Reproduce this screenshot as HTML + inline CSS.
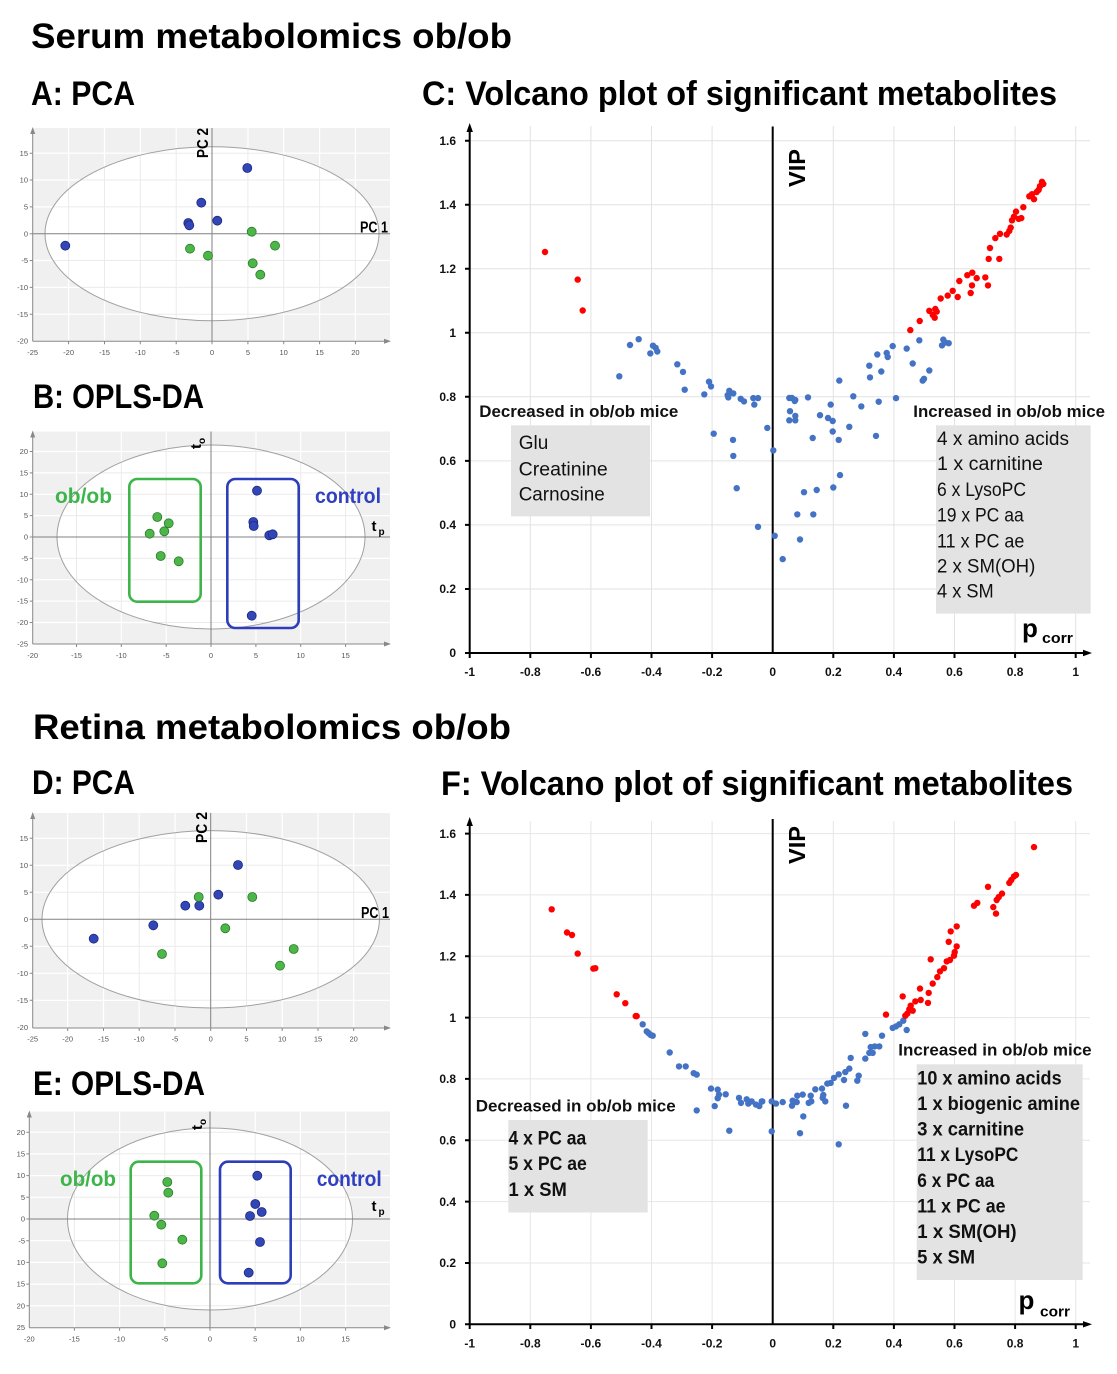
<!DOCTYPE html>
<html><head><meta charset="utf-8"><style>
html,body{margin:0;padding:0;background:#fff;}
svg{display:block;font-family:"Liberation Sans",sans-serif;}
.t{font-weight:bold;fill:#000;}
.tk{font-size:7.5px;fill:#555;}
.vk{font-size:12px;font-weight:bold;fill:#111;}
</style></head><body>
<svg width="1117" height="1374" viewBox="0 0 1117 1374" xmlns="http://www.w3.org/2000/svg">
<defs>
<clipPath id="cA"><ellipse cx="212" cy="233.7" rx="167" ry="87"/></clipPath>
<clipPath id="cB"><ellipse cx="211" cy="537" rx="154" ry="92"/></clipPath>
<clipPath id="cD"><ellipse cx="210.7" cy="919.3" rx="168.7" ry="88.7"/></clipPath>
<clipPath id="cE"><ellipse cx="210" cy="1219" rx="142.5" ry="91"/></clipPath>
</defs>

<!-- Titles -->
<text class="t" x="31" y="48" font-size="35" textLength="481" lengthAdjust="spacingAndGlyphs">Serum metabolomics ob/ob</text>
<text class="t" x="31" y="105" font-size="34" textLength="104" lengthAdjust="spacingAndGlyphs">A: PCA</text>
<text class="t" x="422" y="105" font-size="34" textLength="635" lengthAdjust="spacingAndGlyphs">C: Volcano plot of significant metabolites</text>
<text class="t" x="33" y="408" font-size="34" textLength="171" lengthAdjust="spacingAndGlyphs">B: OPLS-DA</text>
<text class="t" x="33" y="739" font-size="35" textLength="478" lengthAdjust="spacingAndGlyphs">Retina metabolomics ob/ob</text>
<text class="t" x="32" y="794" font-size="34" textLength="103" lengthAdjust="spacingAndGlyphs">D: PCA</text>
<text class="t" x="441" y="795" font-size="34" textLength="632" lengthAdjust="spacingAndGlyphs">F: Volcano plot of significant metabolites</text>
<text class="t" x="33" y="1095" font-size="34" textLength="172" lengthAdjust="spacingAndGlyphs">E: OPLS-DA</text>

<!-- ================= Panel A ================= -->
<rect x="32.7" y="128" width="357.3" height="213.3" fill="#f0f0f0"/>
<path d="M68.6 128V341.3M104.5 128V341.3M140.3 128V341.3M176.2 128V341.3M247.9 128V341.3M283.7 128V341.3M319.6 128V341.3M355.4 128V341.3M32.7 153.2H390M32.7 180H390M32.7 206.9H390M32.7 260.5H390M32.7 287.4H390M32.7 314.2H390" stroke="#fff" stroke-width="1.2" fill="none"/>
<ellipse cx="212" cy="233.7" rx="167" ry="87" fill="#fff"/>
<path clip-path="url(#cA)" d="M68.6 128V341.3M104.5 128V341.3M140.3 128V341.3M176.2 128V341.3M247.9 128V341.3M283.7 128V341.3M319.6 128V341.3M355.4 128V341.3M32.7 153.2H390M32.7 180H390M32.7 206.9H390M32.7 260.5H390M32.7 287.4H390M32.7 314.2H390" stroke="#ebebeb" stroke-width="1" fill="none"/>
<ellipse cx="212" cy="233.7" rx="167" ry="87" fill="none" stroke="#a0a0a0" stroke-width="1"/>
<path d="M212 128V341.3M32.7 233.7H390" stroke="#808080" stroke-width="1" fill="none"/>
<path d="M32.7 341.3V132M32.7 341.3H385M29.7 153.2H32.7M29.7 180H32.7M29.7 206.9H32.7M29.7 233.7H32.7M29.7 260.5H32.7M29.7 287.4H32.7M29.7 314.2H32.7M68.6 341.3V344.3M104.5 341.3V344.3M140.3 341.3V344.3M176.2 341.3V344.3M212 341.3V344.3M247.9 341.3V344.3M283.7 341.3V344.3M319.6 341.3V344.3M355.4 341.3V344.3" stroke="#888" stroke-width="1" fill="none"/>
<polygon points="32.7,127 30.2,134 35.2,134" fill="#888"/>
<polygon points="391,341.3 384,338.8 384,343.8" fill="#888"/>
<g class="tk" text-anchor="end"><text x="28" y="153.2" dy="0.35em">15</text><text x="28" y="180" dy="0.35em">10</text><text x="28" y="206.9" dy="0.35em">5</text><text x="28" y="233.7" dy="0.35em">0</text><text x="28" y="260.5" dy="0.35em">-5</text><text x="28" y="287.4" dy="0.35em">-10</text><text x="28" y="314.2" dy="0.35em">-15</text><text x="28" y="341.1" dy="0.35em">-20</text></g>
<g class="tk" text-anchor="middle"><text x="32.7" y="355">-25</text><text x="68.6" y="355">-20</text><text x="104.5" y="355">-15</text><text x="140.3" y="355">-10</text><text x="176.2" y="355">-5</text><text x="212" y="355">0</text><text x="247.9" y="355">5</text><text x="283.7" y="355">10</text><text x="319.6" y="355">15</text><text x="355.4" y="355">20</text></g>
<text class="t" font-size="16" transform="translate(208,158) rotate(-90)" textLength="30" lengthAdjust="spacingAndGlyphs">PC 2</text>
<text class="t" font-size="16" x="360" y="232.5" textLength="28" lengthAdjust="spacingAndGlyphs">PC 1</text>
<g fill="#3346b8" stroke="#1c2a7c" stroke-width="0.8">
<circle cx="65.3" cy="245.7" r="4.5"/><circle cx="188.3" cy="223" r="4.5"/><circle cx="189.3" cy="225.3" r="4.5"/><circle cx="201.3" cy="202.7" r="4.5"/><circle cx="217.3" cy="220.7" r="4.5"/><circle cx="247.3" cy="168" r="4.5"/>
</g>
<g fill="#4cb648" stroke="#2a7a2a" stroke-width="0.8">
<circle cx="190" cy="248.7" r="4.5"/><circle cx="208" cy="255.7" r="4.5"/><circle cx="251.7" cy="231.7" r="4.5"/><circle cx="275" cy="245.7" r="4.5"/><circle cx="252.7" cy="263.3" r="4.5"/><circle cx="260.3" cy="274.7" r="4.5"/>
</g>

<!-- ================= Panel B ================= -->
<rect x="32.7" y="431.5" width="357.3" height="212.5" fill="#f0f0f0"/>
<path d="M76.5 431.5V644M121.3 431.5V644M166.2 431.5V644M255.9 431.5V644M300.7 431.5V644M345.6 431.5V644M32.7 451.5H390M32.7 472.9H390M32.7 494.3H390M32.7 515.6H390M32.7 558.4H390M32.7 579.7H390M32.7 601.1H390M32.7 622.5H390" stroke="#fff" stroke-width="1.2" fill="none"/>
<ellipse cx="211" cy="537" rx="154" ry="92" fill="#fff"/>
<path clip-path="url(#cB)" d="M76.5 431.5V644M121.3 431.5V644M166.2 431.5V644M255.9 431.5V644M300.7 431.5V644M345.6 431.5V644M32.7 451.5H390M32.7 472.9H390M32.7 494.3H390M32.7 515.6H390M32.7 558.4H390M32.7 579.7H390M32.7 601.1H390M32.7 622.5H390" stroke="#ebebeb" stroke-width="1" fill="none"/>
<ellipse cx="211" cy="537" rx="154" ry="92" fill="none" stroke="#a0a0a0" stroke-width="1"/>
<path d="M211 431.5V644M32.7 537H390" stroke="#808080" stroke-width="1" fill="none"/>
<path d="M32.7 644V435M32.7 644H385M29.7 451.5H32.7M29.7 472.9H32.7M29.7 494.3H32.7M29.7 515.6H32.7M29.7 537H32.7M29.7 558.4H32.7M29.7 579.7H32.7M29.7 601.1H32.7M29.7 622.5H32.7M76.5 644V647M121.3 644V647M166.2 644V647M211 644V647M255.9 644V647M300.7 644V647M345.6 644V647" stroke="#888" stroke-width="1" fill="none"/>
<polygon points="32.7,430.5 30.2,437.5 35.2,437.5" fill="#888"/>
<polygon points="391,644 384,641.5 384,646.5" fill="#888"/>
<g class="tk" text-anchor="end"><text x="28" y="451.5" dy="0.35em">20</text><text x="28" y="472.9" dy="0.35em">15</text><text x="28" y="494.3" dy="0.35em">10</text><text x="28" y="515.6" dy="0.35em">5</text><text x="28" y="537" dy="0.35em">0</text><text x="28" y="558.4" dy="0.35em">-5</text><text x="28" y="579.7" dy="0.35em">-10</text><text x="28" y="601.1" dy="0.35em">-15</text><text x="28" y="622.5" dy="0.35em">-20</text><text x="28" y="643.8" dy="0.35em">-25</text></g>
<g class="tk" text-anchor="middle"><text x="32.7" y="658">-20</text><text x="76.5" y="658">-15</text><text x="121.3" y="658">-10</text><text x="166.2" y="658">-5</text><text x="211" y="658">0</text><text x="255.9" y="658">5</text><text x="300.7" y="658">10</text><text x="345.6" y="658">15</text></g>
<rect x="129.3" y="479" width="71.4" height="122.7" rx="8" fill="none" stroke="#3db54a" stroke-width="2.6"/>
<rect x="227.3" y="479" width="71.4" height="149" rx="8" fill="none" stroke="#2e3db8" stroke-width="2.6"/>
<text font-weight="bold" font-size="21" fill="#3db54a" x="55" y="503" textLength="57" lengthAdjust="spacingAndGlyphs">ob/ob</text>
<text font-weight="bold" font-size="21" fill="#3040c0" x="315" y="503" textLength="66" lengthAdjust="spacingAndGlyphs">control</text>
<text class="t" font-size="15" transform="translate(201,449) rotate(-90)">t<tspan font-size="10" dy="4">o</tspan></text>
<text class="t" font-size="15" x="371.5" y="531">t<tspan font-size="10" dy="4" dx="2">p</tspan></text>
<g fill="#4cb648" stroke="#2a7a2a" stroke-width="0.8">
<circle cx="157.3" cy="517" r="4.5"/><circle cx="168.7" cy="523.3" r="4.5"/><circle cx="149.7" cy="533.7" r="4.5"/><circle cx="164.3" cy="531.3" r="4.5"/><circle cx="160.7" cy="556" r="4.5"/><circle cx="178.7" cy="561.3" r="4.5"/>
</g>
<g fill="#3346b8" stroke="#1c2a7c" stroke-width="0.8">
<circle cx="257" cy="490.7" r="4.5"/><circle cx="253.3" cy="522" r="4.5"/><circle cx="253.7" cy="526" r="4.5"/><circle cx="269.3" cy="535.3" r="4.5"/><circle cx="272.7" cy="534.3" r="4.5"/><circle cx="251.7" cy="615.7" r="4.5"/>
</g>

<!-- ================= Panel D ================= -->
<rect x="32.7" y="813" width="357.3" height="215" fill="#f0f0f0"/>
<path d="M67.7 813V1028M103.5 813V1028M139.2 813V1028M175 813V1028M246.5 813V1028M282.2 813V1028M318 813V1028M353.7 813V1028M32.7 838.3H390M32.7 865.3H390M32.7 892.3H390M32.7 946.3H390M32.7 973.3H390M32.7 1000.3H390" stroke="#fff" stroke-width="1.2" fill="none"/>
<ellipse cx="210.7" cy="919.3" rx="168.7" ry="88.7" fill="#fff"/>
<path clip-path="url(#cD)" d="M67.7 813V1028M103.5 813V1028M139.2 813V1028M175 813V1028M246.5 813V1028M282.2 813V1028M318 813V1028M353.7 813V1028M32.7 838.3H390M32.7 865.3H390M32.7 892.3H390M32.7 946.3H390M32.7 973.3H390M32.7 1000.3H390" stroke="#ebebeb" stroke-width="1" fill="none"/>
<ellipse cx="210.7" cy="919.3" rx="168.7" ry="88.7" fill="none" stroke="#a0a0a0" stroke-width="1"/>
<path d="M210.7 813V1028M32.7 919.3H390" stroke="#808080" stroke-width="1" fill="none"/>
<path d="M32.7 1028V817M32.7 1028H385M29.7 838.3H32.7M29.7 865.3H32.7M29.7 892.3H32.7M29.7 919.3H32.7M29.7 946.3H32.7M29.7 973.3H32.7M29.7 1000.3H32.7M67.7 1028V1031M103.5 1028V1031M139.2 1028V1031M175 1028V1031M210.7 1028V1031M246.5 1028V1031M282.2 1028V1031M318 1028V1031M353.7 1028V1031" stroke="#888" stroke-width="1" fill="none"/>
<polygon points="32.7,812 30.2,819 35.2,819" fill="#888"/>
<polygon points="391,1028 384,1025.5 384,1030.5" fill="#888"/>
<g class="tk" text-anchor="end"><text x="28" y="838.3" dy="0.35em">15</text><text x="28" y="865.3" dy="0.35em">10</text><text x="28" y="892.3" dy="0.35em">5</text><text x="28" y="919.3" dy="0.35em">0</text><text x="28" y="946.3" dy="0.35em">-5</text><text x="28" y="973.3" dy="0.35em">-10</text><text x="28" y="1000.3" dy="0.35em">-15</text><text x="28" y="1027.3" dy="0.35em">-20</text></g>
<g class="tk" text-anchor="middle"><text x="32.7" y="1041.5">-25</text><text x="67.7" y="1041.5">-20</text><text x="103.5" y="1041.5">-15</text><text x="139.2" y="1041.5">-10</text><text x="175" y="1041.5">-5</text><text x="210.7" y="1041.5">0</text><text x="246.5" y="1041.5">5</text><text x="282.2" y="1041.5">10</text><text x="318" y="1041.5">15</text><text x="353.7" y="1041.5">20</text></g>
<text class="t" font-size="16" transform="translate(207,843) rotate(-90)" textLength="31" lengthAdjust="spacingAndGlyphs">PC 2</text>
<text class="t" font-size="16" x="361" y="918" textLength="28" lengthAdjust="spacingAndGlyphs">PC 1</text>
<g fill="#3346b8" stroke="#1c2a7c" stroke-width="0.8">
<circle cx="93.7" cy="938.7" r="4.5"/><circle cx="153.3" cy="925.3" r="4.5"/><circle cx="185.3" cy="905.7" r="4.5"/><circle cx="199.3" cy="905.7" r="4.5"/><circle cx="218.3" cy="894.7" r="4.5"/><circle cx="238" cy="865" r="4.5"/>
</g>
<g fill="#4cb648" stroke="#2a7a2a" stroke-width="0.8">
<circle cx="162" cy="954" r="4.5"/><circle cx="198.7" cy="897" r="4.5"/><circle cx="225.3" cy="928.3" r="4.5"/><circle cx="252.3" cy="897" r="4.5"/><circle cx="280" cy="965.7" r="4.5"/><circle cx="293.7" cy="949" r="4.5"/>
</g>

<!-- ================= Panel E ================= -->
<rect x="29.3" y="1111.5" width="360.7" height="216.2" fill="#f0f0f0"/>
<path d="M74.4 1111.5V1327.7M119.6 1111.5V1327.7M164.8 1111.5V1327.7M255.2 1111.5V1327.7M300.4 1111.5V1327.7M345.6 1111.5V1327.7M29.3 1132.2H390M29.3 1153.9H390M29.3 1175.6H390M29.3 1197.3H390M29.3 1240.7H390M29.3 1262.4H390M29.3 1284.1H390M29.3 1305.8H390" stroke="#fff" stroke-width="1.2" fill="none"/>
<ellipse cx="210" cy="1219" rx="142.5" ry="91" fill="#fff"/>
<path clip-path="url(#cE)" d="M74.4 1111.5V1327.7M119.6 1111.5V1327.7M164.8 1111.5V1327.7M255.2 1111.5V1327.7M300.4 1111.5V1327.7M345.6 1111.5V1327.7M29.3 1132.2H390M29.3 1153.9H390M29.3 1175.6H390M29.3 1197.3H390M29.3 1240.7H390M29.3 1262.4H390M29.3 1284.1H390M29.3 1305.8H390" stroke="#ebebeb" stroke-width="1" fill="none"/>
<ellipse cx="210" cy="1219" rx="142.5" ry="91" fill="none" stroke="#a0a0a0" stroke-width="1"/>
<path d="M210 1111.5V1327.7M29.3 1219H390" stroke="#808080" stroke-width="1" fill="none"/>
<path d="M29.3 1327.7V1115M29.3 1327.7H385M26.3 1132.2H29.3M26.3 1153.9H29.3M26.3 1175.6H29.3M26.3 1197.3H29.3M26.3 1219H29.3M26.3 1240.7H29.3M26.3 1262.4H29.3M26.3 1284.1H29.3M26.3 1305.8H29.3M74.4 1327.7V1330.7M119.6 1327.7V1330.7M164.8 1327.7V1330.7M210 1327.7V1330.7M255.2 1327.7V1330.7M300.4 1327.7V1330.7M345.6 1327.7V1330.7" stroke="#888" stroke-width="1" fill="none"/>
<polygon points="29.3,1110.5 26.8,1117.5 31.8,1117.5" fill="#888"/>
<polygon points="391,1327.7 384,1325.2 384,1330.2" fill="#888"/>
<g class="tk" text-anchor="end"><text x="25" y="1132.2" dy="0.35em">20</text><text x="25" y="1153.9" dy="0.35em">15</text><text x="25" y="1175.6" dy="0.35em">10</text><text x="25" y="1197.3" dy="0.35em">5</text><text x="25" y="1219" dy="0.35em">0</text><text x="25" y="1240.7" dy="0.35em">-5</text><text x="25" y="1262.4" dy="0.35em">10</text><text x="25" y="1284.1" dy="0.35em">15</text><text x="25" y="1305.8" dy="0.35em">20</text><text x="25" y="1327.5" dy="0.35em">25</text></g>
<g class="tk" text-anchor="middle"><text x="29.3" y="1341.5">-20</text><text x="74.4" y="1341.5">-15</text><text x="119.6" y="1341.5">-10</text><text x="164.8" y="1341.5">-5</text><text x="210" y="1341.5">0</text><text x="255.2" y="1341.5">5</text><text x="300.4" y="1341.5">10</text><text x="345.6" y="1341.5">15</text></g>
<rect x="130.7" y="1161.7" width="70.6" height="121.6" rx="8" fill="none" stroke="#3db54a" stroke-width="2.6"/>
<rect x="220" y="1161.7" width="70.7" height="121.6" rx="8" fill="none" stroke="#2e3db8" stroke-width="2.6"/>
<text font-weight="bold" font-size="21" fill="#3db54a" x="60" y="1186" textLength="56" lengthAdjust="spacingAndGlyphs">ob/ob</text>
<text font-weight="bold" font-size="21" fill="#3040c0" x="316.7" y="1186" textLength="65" lengthAdjust="spacingAndGlyphs">control</text>
<text class="t" font-size="15" transform="translate(202,1130) rotate(-90)">t<tspan font-size="10" dy="4">o</tspan></text>
<text class="t" font-size="15" x="371.5" y="1211">t<tspan font-size="10" dy="4" dx="2">p</tspan></text>
<g fill="#4cb648" stroke="#2a7a2a" stroke-width="0.8">
<circle cx="167.3" cy="1182" r="4.5"/><circle cx="168.3" cy="1192.7" r="4.5"/><circle cx="154.3" cy="1215.7" r="4.5"/><circle cx="161.3" cy="1224.7" r="4.5"/><circle cx="182.3" cy="1239.7" r="4.5"/><circle cx="162.3" cy="1263.3" r="4.5"/>
</g>
<g fill="#3346b8" stroke="#1c2a7c" stroke-width="0.8">
<circle cx="257.3" cy="1175.7" r="4.5"/><circle cx="255.3" cy="1204" r="4.5"/><circle cx="261.7" cy="1212" r="4.5"/><circle cx="250" cy="1216" r="4.5"/><circle cx="260" cy="1242" r="4.5"/><circle cx="248.7" cy="1272.7" r="4.5"/>
</g>

<!-- ================= Volcano C ================= -->
<path d="M530.3 126V653M590.9 126V653M651.5 126V653M712.1 126V653M833.3 126V653M893.9 126V653M954.5 126V653M1015.1 126V653M1075.7 126V653M469.7 589H1090M469.7 524.9H1090M469.7 460.9H1090M469.7 396.8H1090M469.7 332.8H1090M469.7 268.8H1090M469.7 204.7H1090M469.7 140.7H1090" stroke="#e2e2e2" stroke-width="1" fill="none"/>
<rect x="511" y="425.3" width="139" height="91" fill="#e3e3e3"/>
<rect x="936" y="425.3" width="154.7" height="188.3" fill="#e3e3e3"/>
<path d="M469.7 653V130M469.7 653H1085M772.7 126.5V653M465 589H469.7M465 524.9H469.7M465 460.9H469.7M465 396.8H469.7M465 332.8H469.7M465 268.8H469.7M465 204.7H469.7M465 140.7H469.7M465 653H469.7M469.7 653V658M530.3 653V658M590.9 653V658M651.5 653V658M712.1 653V658M833.3 653V658M893.9 653V658M954.5 653V658M1015.1 653V658M1075.7 653V658" stroke="#000" stroke-width="2" fill="none"/>
<polygon points="469.7,123 466.5,132 472.9,132" fill="#000"/>
<polygon points="1092,653 1083,649.8 1083,656.2" fill="#000"/>
<g class="vk" text-anchor="end"><text x="456" y="140.7" dy="0.35em">1.6</text><text x="456" y="204.7" dy="0.35em">1.4</text><text x="456" y="268.8" dy="0.35em">1.2</text><text x="456" y="332.8" dy="0.35em">1</text><text x="456" y="396.8" dy="0.35em">0.8</text><text x="456" y="460.9" dy="0.35em">0.6</text><text x="456" y="524.9" dy="0.35em">0.4</text><text x="456" y="589" dy="0.35em">0.2</text><text x="456" y="653" dy="0.35em">0</text></g>
<g class="vk" text-anchor="middle"><text x="469.7" y="676">-1</text><text x="530.3" y="676">-0.8</text><text x="590.9" y="676">-0.6</text><text x="651.5" y="676">-0.4</text><text x="712.1" y="676">-0.2</text><text x="772.7" y="676">0</text><text x="833.3" y="676">0.2</text><text x="893.9" y="676">0.4</text><text x="954.5" y="676">0.6</text><text x="1015.1" y="676">0.8</text><text x="1075.7" y="676">1</text></g>
<text class="t" font-size="23" transform="translate(805,187) rotate(-90)" textLength="38" lengthAdjust="spacingAndGlyphs">VIP</text>
<text class="t" font-size="26" x="1022" y="637">p</text>
<text class="t" font-size="15" x="1042" y="643" textLength="31" lengthAdjust="spacingAndGlyphs">corr</text>
<text font-weight="bold" font-size="17" fill="#111" x="479.3" y="416.8" textLength="199" lengthAdjust="spacingAndGlyphs">Decreased in ob/ob mice</text>
<g font-size="19" fill="#111">
<text x="518.7" y="449">Glu</text>
<text x="518.7" y="475.5" textLength="89" lengthAdjust="spacingAndGlyphs">Creatinine</text>
<text x="518.7" y="500.5" textLength="86" lengthAdjust="spacingAndGlyphs">Carnosine</text>
</g>
<text font-weight="bold" font-size="17" fill="#111" x="913.3" y="416.8" textLength="191.7" lengthAdjust="spacingAndGlyphs">Increased in ob/ob mice</text>
<g font-size="19" fill="#111">
<text x="937" y="445" textLength="132" lengthAdjust="spacingAndGlyphs">4 x amino acids</text>
<text x="937" y="470" textLength="106" lengthAdjust="spacingAndGlyphs">1 x carnitine</text>
<text x="937" y="496" textLength="89" lengthAdjust="spacingAndGlyphs">6 x LysoPC</text>
<text x="937" y="521.5" textLength="86.7" lengthAdjust="spacingAndGlyphs">19 x PC aa</text>
<text x="937" y="547.3" textLength="87.3" lengthAdjust="spacingAndGlyphs">11 x PC ae</text>
<text x="937" y="572.3" textLength="98.3" lengthAdjust="spacingAndGlyphs">2 x SM(OH)</text>
<text x="937" y="597.4" textLength="56.7" lengthAdjust="spacingAndGlyphs">4 x SM</text>
</g>
<g fill="#4472c4">
<circle cx="619.3" cy="376.3" r="3.2"/><circle cx="630" cy="345" r="3.2"/><circle cx="638.7" cy="339.2" r="3.2"/><circle cx="650.3" cy="353.4" r="3.2"/><circle cx="653" cy="345.7" r="3.2"/><circle cx="655.7" cy="347.9" r="3.2"/><circle cx="657.3" cy="351.5" r="3.2"/><circle cx="677.3" cy="364.3" r="3.2"/><circle cx="683" cy="371.9" r="3.2"/><circle cx="684.7" cy="389.7" r="3.2"/><circle cx="704.3" cy="394.4" r="3.2"/><circle cx="709" cy="381.7" r="3.2"/><circle cx="711" cy="386.4" r="3.2"/><circle cx="713.7" cy="433.7" r="3.2"/><circle cx="727.7" cy="395.2" r="3.2"/><circle cx="728.3" cy="397.4" r="3.2"/><circle cx="729.3" cy="390.8" r="3.2"/><circle cx="733.3" cy="393.4" r="3.2"/><circle cx="733" cy="439.9" r="3.2"/><circle cx="733.3" cy="455.9" r="3.2"/><circle cx="736.7" cy="488.2" r="3.2"/><circle cx="740.7" cy="398.8" r="3.2"/><circle cx="744" cy="401.4" r="3.2"/><circle cx="753.3" cy="398.1" r="3.2"/><circle cx="754.3" cy="404.6" r="3.2"/><circle cx="758" cy="398.1" r="3.2"/><circle cx="767.3" cy="427.9" r="3.2"/><circle cx="758" cy="526.8" r="3.2"/><circle cx="773.3" cy="450.4" r="3.2"/><circle cx="774.7" cy="535.8" r="3.2"/>
<circle cx="782.7" cy="559.1" r="3.2"/><circle cx="789.3" cy="398" r="3.2"/><circle cx="792" cy="398" r="3.2"/><circle cx="795.3" cy="400" r="3.2"/><circle cx="794.7" cy="401" r="3.2"/><circle cx="790" cy="411.2" r="3.2"/><circle cx="789.3" cy="420.3" r="3.2"/><circle cx="795.3" cy="415.9" r="3.2"/><circle cx="795.3" cy="420.3" r="3.2"/><circle cx="808" cy="397.4" r="3.2"/><circle cx="820" cy="415.2" r="3.2"/><circle cx="812.7" cy="438" r="3.2"/><circle cx="828" cy="418" r="3.2"/><circle cx="832.7" cy="421" r="3.2"/><circle cx="830.7" cy="404.6" r="3.2"/><circle cx="832.7" cy="431.5" r="3.2"/><circle cx="838.7" cy="439.9" r="3.2"/><circle cx="839.3" cy="380.6" r="3.2"/><circle cx="849.3" cy="426.8" r="3.2"/><circle cx="853.3" cy="396.3" r="3.2"/><circle cx="861.3" cy="406.4" r="3.2"/><circle cx="840" cy="475.1" r="3.2"/><circle cx="833.3" cy="487.5" r="3.2"/><circle cx="816.7" cy="490" r="3.2"/><circle cx="804" cy="492.2" r="3.2"/><circle cx="797.3" cy="514.4" r="3.2"/><circle cx="813.3" cy="514.4" r="3.2"/><circle cx="800" cy="539.5" r="3.2"/><circle cx="869.3" cy="365.7" r="3.2"/><circle cx="870" cy="377.4" r="3.2"/><circle cx="877.3" cy="354.5" r="3.2"/><circle cx="881.3" cy="371.5" r="3.2"/><circle cx="878.7" cy="401.7" r="3.2"/><circle cx="876" cy="435.9" r="3.2"/><circle cx="886.7" cy="353" r="3.2"/><circle cx="887.7" cy="357" r="3.2"/><circle cx="892.7" cy="346.1" r="3.2"/><circle cx="896" cy="398.1" r="3.2"/><circle cx="906.7" cy="348.6" r="3.2"/><circle cx="912.7" cy="363.5" r="3.2"/><circle cx="919.3" cy="340.3" r="3.2"/><circle cx="922.7" cy="380.6" r="3.2"/><circle cx="924" cy="378.8" r="3.2"/><circle cx="929.3" cy="370.5" r="3.2"/><circle cx="943.3" cy="339.6" r="3.2"/><circle cx="942" cy="345.4" r="3.2"/><circle cx="945.3" cy="342.5" r="3.2"/><circle cx="948.7" cy="343.2" r="3.2"/>
</g>
<g fill="#ff0000">
<circle cx="545" cy="252" r="3.2"/><circle cx="577.7" cy="279.6" r="3.2"/><circle cx="582.7" cy="310.5" r="3.2"/>
<circle cx="910.3" cy="330.1" r="3.2"/><circle cx="919.7" cy="321" r="3.2"/><circle cx="929.3" cy="310.8" r="3.2"/><circle cx="932.7" cy="314.8" r="3.2"/><circle cx="935.3" cy="309" r="3.2"/><circle cx="936.7" cy="311.6" r="3.2"/><circle cx="934.7" cy="317.7" r="3.2"/><circle cx="940.7" cy="298.5" r="3.2"/><circle cx="947.7" cy="295.6" r="3.2"/><circle cx="952.7" cy="290.8" r="3.2"/><circle cx="957.7" cy="297" r="3.2"/><circle cx="959.3" cy="281" r="3.2"/><circle cx="967.3" cy="275.2" r="3.2"/><circle cx="972.3" cy="272.7" r="3.2"/><circle cx="976.7" cy="278.1" r="3.2"/><circle cx="972" cy="285.4" r="3.2"/><circle cx="970.7" cy="293" r="3.2"/><circle cx="985.3" cy="277.4" r="3.2"/><circle cx="988" cy="285.4" r="3.2"/><circle cx="988.7" cy="258.9" r="3.2"/><circle cx="999.3" cy="258.9" r="3.2"/><circle cx="990" cy="248" r="3.2"/><circle cx="995.3" cy="238.1" r="3.2"/><circle cx="1000" cy="233.8" r="3.2"/><circle cx="1006.7" cy="234.5" r="3.2"/><circle cx="1009.3" cy="230.9" r="3.2"/><circle cx="1010.7" cy="227.6" r="3.2"/><circle cx="1012" cy="220.3" r="3.2"/><circle cx="1014" cy="216.7" r="3.2"/><circle cx="1016" cy="211.6" r="3.2"/><circle cx="1018.7" cy="218.9" r="3.2"/><circle cx="1021.3" cy="218.1" r="3.2"/><circle cx="1023.3" cy="207.2" r="3.2"/><circle cx="1029.3" cy="196.3" r="3.2"/><circle cx="1032" cy="194.2" r="3.2"/><circle cx="1034" cy="199.2" r="3.2"/><circle cx="1036.7" cy="192" r="3.2"/><circle cx="1038.7" cy="189.8" r="3.2"/><circle cx="1040" cy="186.2" r="3.2"/><circle cx="1042" cy="181.8" r="3.2"/><circle cx="1043.3" cy="184" r="3.2"/>
</g>

<!-- ================= Volcano F ================= -->
<path d="M530.3 821V1324.3M590.9 821V1324.3M651.5 821V1324.3M712.1 821V1324.3M833.3 821V1324.3M893.9 821V1324.3M954.5 821V1324.3M1015.1 821V1324.3M1075.7 821V1324.3M469.7 1263H1090M469.7 1201.6H1090M469.7 1140.3H1090M469.7 1078.9H1090M469.7 1017.6H1090M469.7 956.3H1090M469.7 894.9H1090M469.7 833.6H1090" stroke="#e6e6e6" stroke-width="1" fill="none"/>
<rect x="508.3" y="1120" width="139.4" height="92.5" fill="#e3e3e3"/>
<rect x="916.7" y="1064.3" width="166" height="215.7" fill="#e3e3e3"/>
<path d="M469.7 1324.3V824M469.7 1324.3H1085M772.7 819V1324.3M465 1263H469.7M465 1201.6H469.7M465 1140.3H469.7M465 1078.9H469.7M465 1017.6H469.7M465 956.3H469.7M465 894.9H469.7M465 833.6H469.7M465 1324.3H469.7M469.7 1324.3V1329M530.3 1324.3V1329M590.9 1324.3V1329M651.5 1324.3V1329M712.1 1324.3V1329M833.3 1324.3V1329M893.9 1324.3V1329M954.5 1324.3V1329M1015.1 1324.3V1329M1075.7 1324.3V1329" stroke="#000" stroke-width="2" fill="none"/>
<polygon points="469.7,817 466.5,826 472.9,826" fill="#000"/>
<polygon points="1092,1324.3 1083,1321.1 1083,1327.5" fill="#000"/>
<g class="vk" text-anchor="end"><text x="456" y="833.6" dy="0.35em">1.6</text><text x="456" y="894.9" dy="0.35em">1.4</text><text x="456" y="956.3" dy="0.35em">1.2</text><text x="456" y="1017.6" dy="0.35em">1</text><text x="456" y="1078.9" dy="0.35em">0.8</text><text x="456" y="1140.3" dy="0.35em">0.6</text><text x="456" y="1201.6" dy="0.35em">0.4</text><text x="456" y="1263" dy="0.35em">0.2</text><text x="456" y="1324.3" dy="0.35em">0</text></g>
<g class="vk" text-anchor="middle"><text x="469.7" y="1347.5">-1</text><text x="530.3" y="1347.5">-0.8</text><text x="590.9" y="1347.5">-0.6</text><text x="651.5" y="1347.5">-0.4</text><text x="712.1" y="1347.5">-0.2</text><text x="772.7" y="1347.5">0</text><text x="833.3" y="1347.5">0.2</text><text x="893.9" y="1347.5">0.4</text><text x="954.5" y="1347.5">0.6</text><text x="1015.1" y="1347.5">0.8</text><text x="1075.7" y="1347.5">1</text></g>
<text class="t" font-size="23" transform="translate(805,864) rotate(-90)" textLength="38" lengthAdjust="spacingAndGlyphs">VIP</text>
<text class="t" font-size="26" x="1018.5" y="1309">p</text>
<text class="t" font-size="15" x="1040" y="1316.5" textLength="30" lengthAdjust="spacingAndGlyphs">corr</text>
<text font-weight="bold" font-size="17" fill="#111" x="475.7" y="1111.7" textLength="200" lengthAdjust="spacingAndGlyphs">Decreased in ob/ob mice</text>
<g font-size="19" font-weight="bold" fill="#111">
<text x="508.5" y="1144.5" textLength="77.7" lengthAdjust="spacingAndGlyphs">4 x PC aa</text>
<text x="508.5" y="1170.2" textLength="78.3" lengthAdjust="spacingAndGlyphs">5 x PC ae</text>
<text x="508.5" y="1195.9" textLength="58.3" lengthAdjust="spacingAndGlyphs">1 x SM</text>
</g>
<text font-weight="bold" font-size="17" fill="#111" x="898.3" y="1055.3" textLength="193.3" lengthAdjust="spacingAndGlyphs">Increased in ob/ob mice</text>
<g font-size="19" font-weight="bold" fill="#111">
<text x="917.3" y="1084.5" textLength="144.3" lengthAdjust="spacingAndGlyphs">10 x amino acids</text>
<text x="917.3" y="1110.2" textLength="162.7" lengthAdjust="spacingAndGlyphs">1 x biogenic amine</text>
<text x="917.3" y="1135.5" textLength="106.7" lengthAdjust="spacingAndGlyphs">3 x carnitine</text>
<text x="917.3" y="1161.2" textLength="101" lengthAdjust="spacingAndGlyphs">11 x LysoPC</text>
<text x="917.3" y="1187" textLength="77" lengthAdjust="spacingAndGlyphs">6 x PC aa</text>
<text x="917.3" y="1212.3" textLength="88.3" lengthAdjust="spacingAndGlyphs">11 x PC ae</text>
<text x="917.3" y="1238" textLength="99.3" lengthAdjust="spacingAndGlyphs">1 x SM(OH)</text>
<text x="917.3" y="1263.4" textLength="57.7" lengthAdjust="spacingAndGlyphs">5 x SM</text>
</g>
<g fill="#4472c4">
<circle cx="642.7" cy="1024.3" r="3.2"/><circle cx="646.7" cy="1031.4" r="3.2"/><circle cx="648.7" cy="1033.2" r="3.2"/><circle cx="650.7" cy="1035" r="3.2"/><circle cx="652.7" cy="1035.7" r="3.2"/><circle cx="669.7" cy="1052.5" r="3.2"/><circle cx="679" cy="1066.4" r="3.2"/><circle cx="685.7" cy="1066.4" r="3.2"/><circle cx="693.7" cy="1073.2" r="3.2"/><circle cx="696.7" cy="1074.6" r="3.2"/><circle cx="711" cy="1088.6" r="3.2"/><circle cx="717.7" cy="1089.6" r="3.2"/><circle cx="719" cy="1094.6" r="3.2"/><circle cx="717.7" cy="1098.2" r="3.2"/><circle cx="725.7" cy="1094.3" r="3.2"/><circle cx="714.7" cy="1106.1" r="3.2"/><circle cx="696.7" cy="1110.4" r="3.2"/><circle cx="739" cy="1097.9" r="3.2"/><circle cx="741" cy="1102.9" r="3.2"/><circle cx="746.7" cy="1099.3" r="3.2"/><circle cx="748.3" cy="1103.6" r="3.2"/><circle cx="751.7" cy="1101.4" r="3.2"/><circle cx="756" cy="1104.6" r="3.2"/><circle cx="759.3" cy="1106.1" r="3.2"/><circle cx="762.3" cy="1101.4" r="3.2"/><circle cx="771.7" cy="1101.4" r="3.2"/><circle cx="776" cy="1103.6" r="3.2"/><circle cx="729.3" cy="1130.7" r="3.2"/><circle cx="771.7" cy="1131.4" r="3.2"/>
<circle cx="761.7" cy="1101.4" r="3.2"/><circle cx="782.7" cy="1102.1" r="3.2"/><circle cx="792" cy="1105.7" r="3.2"/><circle cx="792.7" cy="1100.7" r="3.2"/><circle cx="797.3" cy="1095.7" r="3.2"/><circle cx="796.7" cy="1102.1" r="3.2"/><circle cx="802.7" cy="1094.6" r="3.2"/><circle cx="803.3" cy="1116.4" r="3.2"/><circle cx="808.7" cy="1102.9" r="3.2"/><circle cx="810.7" cy="1095.7" r="3.2"/><circle cx="811.3" cy="1101.4" r="3.2"/><circle cx="815.3" cy="1089.3" r="3.2"/><circle cx="822" cy="1088.6" r="3.2"/><circle cx="822.7" cy="1097.9" r="3.2"/><circle cx="825.3" cy="1101.4" r="3.2"/><circle cx="823.3" cy="1095" r="3.2"/><circle cx="827.3" cy="1083.6" r="3.2"/><circle cx="830.7" cy="1082.9" r="3.2"/><circle cx="834" cy="1077.9" r="3.2"/><circle cx="838.7" cy="1074.3" r="3.2"/><circle cx="844" cy="1080" r="3.2"/><circle cx="845.3" cy="1072.1" r="3.2"/><circle cx="849.3" cy="1068.6" r="3.2"/><circle cx="850.7" cy="1057.9" r="3.2"/><circle cx="857.3" cy="1080.7" r="3.2"/><circle cx="858.7" cy="1075.7" r="3.2"/><circle cx="846" cy="1105.7" r="3.2"/><circle cx="800" cy="1133.2" r="3.2"/><circle cx="838.7" cy="1144.3" r="3.2"/><circle cx="865.3" cy="1033.9" r="3.2"/><circle cx="865.3" cy="1058.6" r="3.2"/><circle cx="869.3" cy="1052.9" r="3.2"/><circle cx="870.7" cy="1047.1" r="3.2"/><circle cx="872.7" cy="1052.9" r="3.2"/><circle cx="874.7" cy="1046.4" r="3.2"/><circle cx="879.3" cy="1046.4" r="3.2"/><circle cx="882" cy="1035.7" r="3.2"/><circle cx="892.7" cy="1027.9" r="3.2"/><circle cx="896" cy="1026.4" r="3.2"/><circle cx="899.3" cy="1024.3" r="3.2"/><circle cx="903.3" cy="1020.7" r="3.2"/><circle cx="906.7" cy="1030" r="3.2"/>
</g>
<g fill="#ff0000">
<circle cx="551.7" cy="909.3" r="3.2"/><circle cx="567" cy="932.5" r="3.2"/><circle cx="572" cy="935" r="3.2"/><circle cx="577.7" cy="953.6" r="3.2"/><circle cx="593.3" cy="968.6" r="3.2"/><circle cx="595.3" cy="968.2" r="3.2"/><circle cx="616.7" cy="994.3" r="3.2"/><circle cx="625.3" cy="1003.2" r="3.2"/><circle cx="635.7" cy="1016.1" r="3.2"/><circle cx="636.7" cy="1016.1" r="3.2"/>
<circle cx="886" cy="1014.6" r="3.2"/><circle cx="902.7" cy="996.4" r="3.2"/><circle cx="905.3" cy="1015.7" r="3.2"/><circle cx="907.3" cy="1013.6" r="3.2"/><circle cx="909.3" cy="1009.3" r="3.2"/><circle cx="910.7" cy="1005.7" r="3.2"/><circle cx="912.7" cy="1010.7" r="3.2"/><circle cx="915.3" cy="1001.4" r="3.2"/><circle cx="920" cy="988.6" r="3.2"/><circle cx="920.7" cy="1000" r="3.2"/><circle cx="928" cy="1002.9" r="3.2"/><circle cx="928.7" cy="992.9" r="3.2"/><circle cx="932.7" cy="983.6" r="3.2"/><circle cx="930.7" cy="959.3" r="3.2"/><circle cx="937.3" cy="977.1" r="3.2"/><circle cx="940" cy="971.4" r="3.2"/><circle cx="944" cy="968.2" r="3.2"/><circle cx="946.7" cy="961.4" r="3.2"/><circle cx="950" cy="960" r="3.2"/><circle cx="948.7" cy="941.8" r="3.2"/><circle cx="950.7" cy="931.4" r="3.2"/><circle cx="956.7" cy="926.4" r="3.2"/><circle cx="954" cy="955.7" r="3.2"/><circle cx="954.7" cy="952.1" r="3.2"/><circle cx="956.7" cy="946.4" r="3.2"/><circle cx="974" cy="905.7" r="3.2"/><circle cx="977.3" cy="902.9" r="3.2"/><circle cx="988" cy="886.8" r="3.2"/><circle cx="996" cy="913.6" r="3.2"/><circle cx="993.3" cy="907.1" r="3.2"/><circle cx="996.7" cy="900" r="3.2"/><circle cx="998.7" cy="897.1" r="3.2"/><circle cx="1002" cy="893.6" r="3.2"/><circle cx="1009.3" cy="882.9" r="3.2"/><circle cx="1011.3" cy="880" r="3.2"/><circle cx="1014" cy="876.4" r="3.2"/><circle cx="1016" cy="875" r="3.2"/><circle cx="1034" cy="847.1" r="3.2"/>
</g>
</svg>
</body></html>
